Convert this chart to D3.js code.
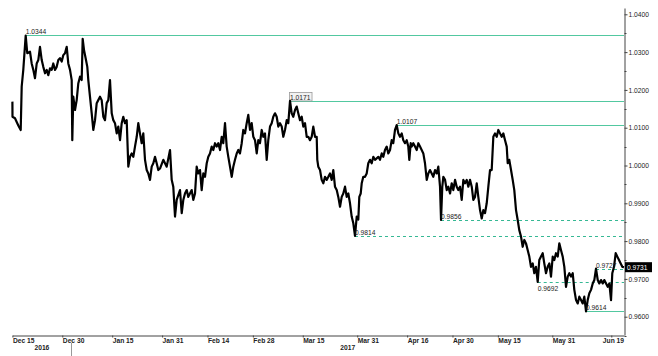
<!DOCTYPE html>
<html><head><meta charset="utf-8">
<script src="https://cdn.jsdelivr.net/npm/d3@7"></script>
<style>body{margin:0;background:#fff}svg{display:block}text{font-family:"Liberation Sans",Arial,sans-serif}</style>
</head><body><svg id="c" width="658" height="356"></svg>
<script>
// trading-session index (business days since 2016-12-15) and USD/CHF price
const session = [0,0.02,0.57,1.30,1.83,2.05,2.40,2.93,3.28,3.88,4.25,4.61,4.98,5.36,5.71,6.08,6.46,6.81,7.19,7.56,7.91,8.29,8.66,9.01,9.39,9.76,10.12,10.49,10.87,11.22,11.59,11.97,12.32,12.70,13.07,13.20,13.42,13.80,14.17,14.52,14.90,15.27,15.49,15.78,16.22,16.51,16.73,17.10,17.48,17.83,18.21,18.58,18.93,19.31,19.68,20.04,20.41,20.78,21.14,21.51,21.89,22.24,22.61,22.99,23.34,23.72,24.09,24.44,24.82,25.19,25.55,25.92,26.29,26.65,27.02,27.40,27.75,28.12,28.50,28.85,29.23,29.60,29.95,30.33,30.70,31.06,31.43,31.80,32.16,32.53,
33.26,34.01,34.74,35.11,35.46,35.84,36.21,36.94,37.32,37.67,38.04,38.42,38.77,39.14,39.52,39.87,40.25,40.62,40.97,41.35,41.72,42.08,42.45,42.83,43.18,43.55,43.93,44.28,44.66,45.03,45.38,45.76,46.13,46.48,46.86,47.23,47.59,47.96,48.34,48.69,49.06,49.44,49.79,50.16,50.54,50.89,51.27,51.64,51.99,52.37,52.74,53.10,53.47,53.85,54.20,54.57,54.95,55.30,55.67,56.05,56.40,56.78,57.15,57.50,57.88,58.25,58.61,58.98,59.36,59.71,60.08,60.46,60.81,61.19,61.56,61.91,62.29,62.66,63.01,63.39,63.76,64.12,64.49,64.87,65.22,65.59,
65.97,66.32,66.70,67.07,67.20,67.42,67.80,68.17,68.53,68.90,69.28,69.63,70.00,70.38,70.73,71.10,71.48,71.83,72.21,72.58,72.93,73.31,73.68,74.04,74.41,74.78,75.14,75.51,75.89,76.24,76.46,76.77,76.99,77.34,77.72,78.09,78.44,78.82,79.19,79.55,79.92,80.29,80.65,81.02,81.40,81.75,82.12,82.50,82.85,83.23,83.60,83.95,84.33,84.70,85.06,85.43,85.81,86.16,86.53,86.91,87.26,87.48,87.79,88.01,88.36,88.74,89.11,89.47,89.84,90.21,90.57,90.94,91.32,91.67,92.04,92.42,92.77,93.15,93.52,93.87,94.25,94.47,94.75,94.98,95.36,95.73,96.08,96.46,
96.83,97.18,97.56,97.93,98.28,98.66,99.03,99.39,99.76,100.13,100.49,100.86,101.24,101.59,101.96,102.34,102.69,103.07,103.44,103.79,104.17,104.54,104.90,105.27,105.64,106.00,106.37,106.75,107.10,107.47,107.85,108.20,108.58,108.95,109.17,109.52,109.90,110.27,110.62,111.00,111.37,111.72,112.10,112.47,112.83,113.20,113.58,113.93,114.30,114.68,115.03,115.40,115.78,116.13,116.51,116.88,117.23,117.61,117.98,118.34,118.71,119.09,119.44,119.81,120.19,120.54,120.92,121.29,121.65,122.02,122.40,122.75,123.12,123.50,123.85,124.23,124.60,124.95,125.33,125.70,126.05,126.43,126.80,127.16,127.53,127.91,128.26,128.63,129.01,129.36,129.74,130.11,130.46,130.84,131.21,131.57,131.94,132.22,132.60,132.97,133.33,133.70,134.07,134.43,134.80];
const price = [1.0169,1.0129,1.0125,1.0106,1.0094,1.0209,1.0253,1.0344,1.0297,1.0301,1.0270,1.0253,1.0231,1.0270,1.0279,1.0314,1.0279,1.0261,1.0244,1.0253,1.0239,1.0257,1.0253,1.0270,1.0253,1.0261,1.0279,1.0284,1.0275,1.0292,1.0297,1.0314,1.0270,1.0253,1.0226,1.0067,1.0182,1.0147,1.0173,1.0217,1.0235,1.0226,1.0335,1.0306,1.0279,1.0261,1.0226,1.0182,1.0138,1.0094,1.0120,1.0165,1.0173,1.0182,1.0173,1.0129,1.0120,1.0165,1.0173,1.0226,1.0138,1.0120,1.0112,1.0085,1.0103,1.0067,1.0112,1.0129,1.0112,1.0120,0.9997,1.0023,1.0032,1.0023,1.0050,1.0076,1.0112,1.0085,1.0059,1.0085,1.0015,0.9988,0.9979,0.9962,0.9997,1.0006,1.0023,1.0006,0.9988,0.9992,
1.0015,0.9997,1.0041,0.9962,0.9944,0.9865,0.9909,0.9935,0.9874,0.9909,0.9926,0.9935,0.9917,0.9926,0.9935,0.9909,0.9926,0.9997,0.9979,0.9988,0.9935,0.9979,0.9970,1.0006,1.0023,1.0032,1.0050,1.0041,1.0059,1.0050,1.0059,1.0041,1.0076,1.0059,1.0112,1.0050,1.0023,0.9997,0.9970,0.9997,1.0015,1.0032,1.0041,1.0032,1.0059,1.0094,1.0085,1.0112,1.0134,1.0094,1.0112,1.0076,1.0067,1.0032,1.0067,1.0059,1.0094,1.0076,1.0085,1.0015,1.0067,1.0103,1.0112,1.0129,1.0138,1.0129,1.0103,1.0112,1.0103,1.0076,1.0094,1.0120,1.0112,1.0171,1.0138,1.0129,1.0147,1.0156,1.0138,1.0120,1.0129,1.0103,1.0112,1.0076,1.0076,1.0067,
1.0076,1.0103,1.0076,1.0076,1.0015,0.9997,0.9988,0.9962,0.9953,0.9970,0.9962,0.9970,0.9979,0.9962,0.9988,0.9944,0.9935,0.9917,0.9891,0.9917,0.9926,0.9944,0.9917,0.9926,0.9900,0.9865,0.9847,0.9814,0.9865,0.9857,0.9917,0.9926,0.9953,0.9970,0.9970,0.9979,1.0006,1.0015,1.0006,1.0023,1.0015,1.0019,1.0023,1.0015,1.0032,1.0023,1.0041,1.0050,1.0032,1.0041,1.0067,1.0059,1.0094,1.0107,1.0085,1.0076,1.0085,1.0067,1.0059,1.0067,1.0050,1.0015,1.0059,1.0050,1.0059,1.0050,1.0041,1.0059,1.0050,1.0041,1.0032,1.0006,0.9962,0.9979,0.9988,0.9979,0.9970,0.9988,0.9979,0.9997,0.9944,0.9856,0.9944,0.9970,0.9962,0.9935,0.9944,0.9926,
0.9953,0.9935,0.9962,0.9944,0.9935,0.9944,0.9909,0.9962,0.9953,0.9962,0.9944,0.9962,0.9944,0.9909,0.9917,0.9953,0.9917,0.9882,0.9860,0.9882,0.9874,0.9900,0.9944,0.9988,0.9988,1.0076,1.0085,1.0076,1.0094,1.0085,1.0076,1.0085,1.0067,1.0050,1.0006,1.0015,0.9988,0.9962,0.9935,0.9882,0.9856,0.9829,0.9812,0.9785,0.9803,0.9794,0.9776,0.9759,0.9732,0.9741,0.9715,0.9732,0.9692,0.9750,0.9759,0.9768,0.9741,0.9715,0.9732,0.9741,0.9706,0.9759,0.9750,0.9768,0.9759,0.9794,0.9776,0.9759,0.9732,0.9679,0.9706,0.9715,0.9706,0.9715,0.9671,0.9644,0.9635,0.9653,0.9644,0.9635,0.9653,0.9614,0.9644,0.9662,0.9671,0.9688,0.9697,0.9727,0.9697,0.9688,0.9697,0.9688,0.9697,0.9688,0.9679,0.9688,0.9644,0.9715,0.9732,0.9768,0.9759,0.9750,0.9741,0.9732,0.9731];

const tickDates = ["2016-12-15","2016-12-30","2017-01-15","2017-01-31","2017-02-14","2017-02-28","2017-03-15","2017-03-31","2017-04-16","2017-04-30","2017-05-15","2017-05-31","2017-06-19"];
const tickLabels = ["Dec 15","Dec 30","Jan 15","Jan 31","Feb 14","Feb 28","Mar 15","Mar 31","Apr 16","Apr 30","May 15","May 31","Jun 19"];
const yearLabels = ["2016","2017"];
const yearStarts = ["2016-12-15","2017-01-03"];
const yTicks = [0.96,0.97,0.98,0.99,1.00,1.01,1.02,1.03,1.04];
const yMinor = [0.955,0.965,0.975,0.985,0.995,1.005,1.015,1.025,1.035];
// marked swing levels and the session where each occurred
const levelValue   = [1.0344,1.0171,1.0107,0.9814,0.9856,0.9692,0.9614,0.9727];
const levelSession = [2.93,61.19,84.70,75.51,94.47,115.78,126.43,128.63];
const boxedLevel = 1.0171;
const lastPrice = 0.9731;

const svg = d3.select("#c");
const W=658,H=356;
const plotL=12.4, plotR=624, plotT=8, plotB=335;
const x = d3.scaleLinear().domain([0,134.8]).range([plotL,plotR]);
const y = d3.scaleLinear().domain([0.95516,1.04167]).range([plotB,plotT]);

const startDay = new Date(2016,11,15);
function bizIndex(s){
  const p=s.split("-").map(Number); const d=new Date(p[0],p[1]-1,p[2]);
  let n=0; const cur=new Date(startDay);
  while(cur<d){const wd=cur.getDay(); if(wd!==0&&wd!==6)n++; cur.setDate(cur.getDate()+1);}
  return n;
}

const pts = session.map((t,i)=>[t,price[i]]);
const fs = 6.7;

// level lines
const lv = levelValue.map((v,i)=>{
  const t=levelSession[i];
  let k=0,best=1e9; session.forEach((s,j)=>{const dd=Math.abs(s-t); if(dd<best){best=dd;k=j;}});
  const nb=[price[Math.max(0,k-1)],price[Math.min(price.length-1,k+1)]];
  const isHigh = nb.every(p=>p<=v);
  const later = price.slice(k+1);
  const broken = isHigh ? later.some(p=>p>v) : later.some(p=>p<v);
  return {v,t,k,isHigh,broken};
});
const gl = svg.append("g");
lv.forEach(L=>{
  gl.append("line").attr("x1",x(L.t)).attr("x2",plotR).attr("y1",Math.round(y(L.v))+0.5).attr("y2",Math.round(y(L.v))+0.5)
    .attr("stroke",L.broken?"#35b894":"#52c8a0").attr("stroke-width",1)
    .attr("stroke-dasharray",L.broken?"3,3":null);
});

// price line
svg.append("path").datum(pts)
  .attr("d",d3.line().x(d=>x(d[0])).y(d=>y(d[1])))
  .attr("fill","none").attr("stroke","#000").attr("stroke-width",2.2).attr("stroke-linejoin","round");

// level labels
lv.forEach(L=>{
  const lx=x(L.t), ly=Math.round(y(L.v))+0.5;
  const txt=L.v.toFixed(4);
  const tw=txt.length*3.5;
  let below=false;
  if(!L.isHigh){
    below = pts.some(p=>x(p[0])>lx+3 && x(p[0])<lx+tw && y(p[1])>ly-9 && y(p[1])<ly-1);
  }
  const by = below ? ly+8 : ly-2;
  if(L.v===boxedLevel){
    gl.append("rect").attr("x",lx-0.5).attr("y",ly-9).attr("width",tw+1.5).attr("height",8.5)
      .attr("fill","#f2f2f2").attr("stroke","#999").attr("stroke-width",0.8);
  }
  svg.append("text").attr("x",lx).attr("y",by).attr("font-size",fs).attr("fill","#222").text(txt);
});

// y axis
const ya = svg.append("g").attr("transform",`translate(${plotR+0.5},0)`)
  .call(d3.axisRight(y).tickValues(yTicks).tickFormat(d3.format(".4f")).tickSize(3).tickSizeOuter(0));
ya.select(".domain").attr("stroke","#444");
ya.selectAll(".tick line").attr("stroke","#444");
ya.selectAll(".tick text").attr("font-size",fs).attr("fill","#222").attr("x",4).attr("font-family","Liberation Sans, Arial, sans-serif");
ya.selectAll(".minor").data(yMinor).enter().append("line").attr("class","minor")
  .attr("x1",0).attr("x2",2).attr("y1",d=>Math.round(y(d))+0.5).attr("y2",d=>Math.round(y(d))+0.5).attr("stroke","#444");

// last price marker
const lpY=y(lastPrice);
svg.append("rect").attr("x",plotR+1).attr("y",lpY-5).attr("width",27).attr("height",10).attr("fill","#000");
svg.append("text").attr("x",plotR+3).attr("y",lpY+2.4).attr("font-size",fs).attr("fill","#fff").text(lastPrice.toFixed(4));

// x axis
const tIdx = tickDates.map(bizIndex);
const xa = svg.append("g").attr("transform",`translate(0,${plotB+0.5})`)
  .call(d3.axisBottom(x).tickValues(tIdx).tickFormat((d,i)=>tickLabels[i]).tickSize(2).tickSizeOuter(0));
xa.select(".domain").attr("stroke","#444");
xa.selectAll(".tick line").attr("stroke","#444");
xa.selectAll(".tick text").attr("font-size",fs).attr("fill","#222").attr("font-weight","bold")
  .attr("text-anchor","start").attr("y",3).attr("dy","0.71em").attr("font-family","Liberation Sans, Arial, sans-serif")
  .each(function(){
    const tr=d3.select(this.parentNode).attr("transform");
    const tx=+tr.match(/translate\(([-\d.]+)/)[1];
    const w=this.getComputedTextLength();
    if(tx+w>plotR) d3.select(this).attr("x",plotR-tx-w);
  });

// year labels and separator
const yb = yearStarts.map(bizIndex);
yearLabels.forEach((lab,i)=>{
  const a=x(yb[i]), b=i+1<yb.length?x(yb[i+1]):plotR;
  svg.append("text").attr("x",(a+b)/2).attr("y",350).attr("text-anchor","middle").attr("font-size",fs)
    .attr("font-weight","bold").attr("fill","#222").text(lab);
  if(i>0) svg.append("line").attr("x1",Math.round(a)+0.5).attr("x2",Math.round(a)+0.5).attr("y1",plotB+8).attr("y2",H)
    .attr("stroke","#999");
});
</script></body></html>
